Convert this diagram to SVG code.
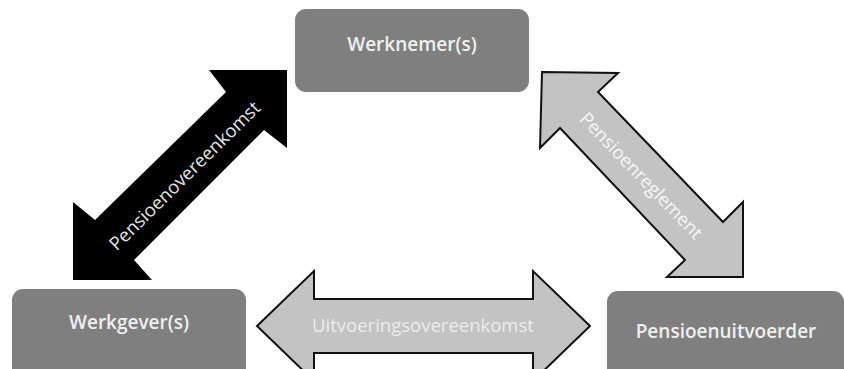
<svg xmlns="http://www.w3.org/2000/svg" width="844" height="369" viewBox="0 0 844 369">
<style>
.node{fill:#7f7f7f;}
.ntext{font-family:"Open Sans","DejaVu Sans",sans-serif;font-weight:600;font-size:19px;fill:#f0f0f0;text-anchor:middle;}
.atext{font-family:"Open Sans","DejaVu Sans",sans-serif;font-size:18.5px;text-anchor:middle;}
.garrow{fill:#c3c3c3;stroke:#111;stroke-width:2;stroke-linejoin:miter;}
</style>
<rect width="844" height="369" fill="#ffffff"/>
<g id="connectors">
  <g id="pensioenovereenkomst">
    <polygon points="287,70 287,148 264,130 134,260 152,280 73,280 73,202 95,220 226,92 209,70" fill="#000"/>
    <text class="atext" fill="#e6e6e6" transform="rotate(-44.5 185 176)" x="185" y="182">Pensioenovereenkomst</text>
  </g>
  <g id="pensioenreglement">
    <polygon class="garrow" points="542,72 618,73 598,92 723,222 743,202 743,277 667,277 685,260 560,128 540,148"/>
    <text class="atext" fill="#f6f6f6" transform="rotate(46 641 176)" x="641" y="182">Pensioenreglement</text>
  </g>
  <g id="uitvoeringsovereenkomst">
    <polygon class="garrow" points="257,326 314,271 314,299 533,299 533,271 590,326 533,381 533,353 314,353 314,381"/>
    <text class="atext" fill="#ececec" x="423" y="332">Uitvoeringsovereenkomst</text>
  </g>
</g>
<g id="werknemers">
  <rect class="node" x="295" y="9" width="234" height="83" rx="11"/>
  <text class="ntext" x="412" y="51">Werknemer(s)</text>
</g>
<g id="werkgevers">
  <rect class="node" x="12" y="289" width="234" height="90" rx="11"/>
  <text class="ntext" x="129" y="329">Werkgever(s)</text>
</g>
<g id="pensioenuitvoerder">
  <rect class="node" x="607" y="291" width="237" height="90" rx="11"/>
  <text class="ntext" x="726" y="338">Pensioenuitvoerder</text>
</g>
</svg>
